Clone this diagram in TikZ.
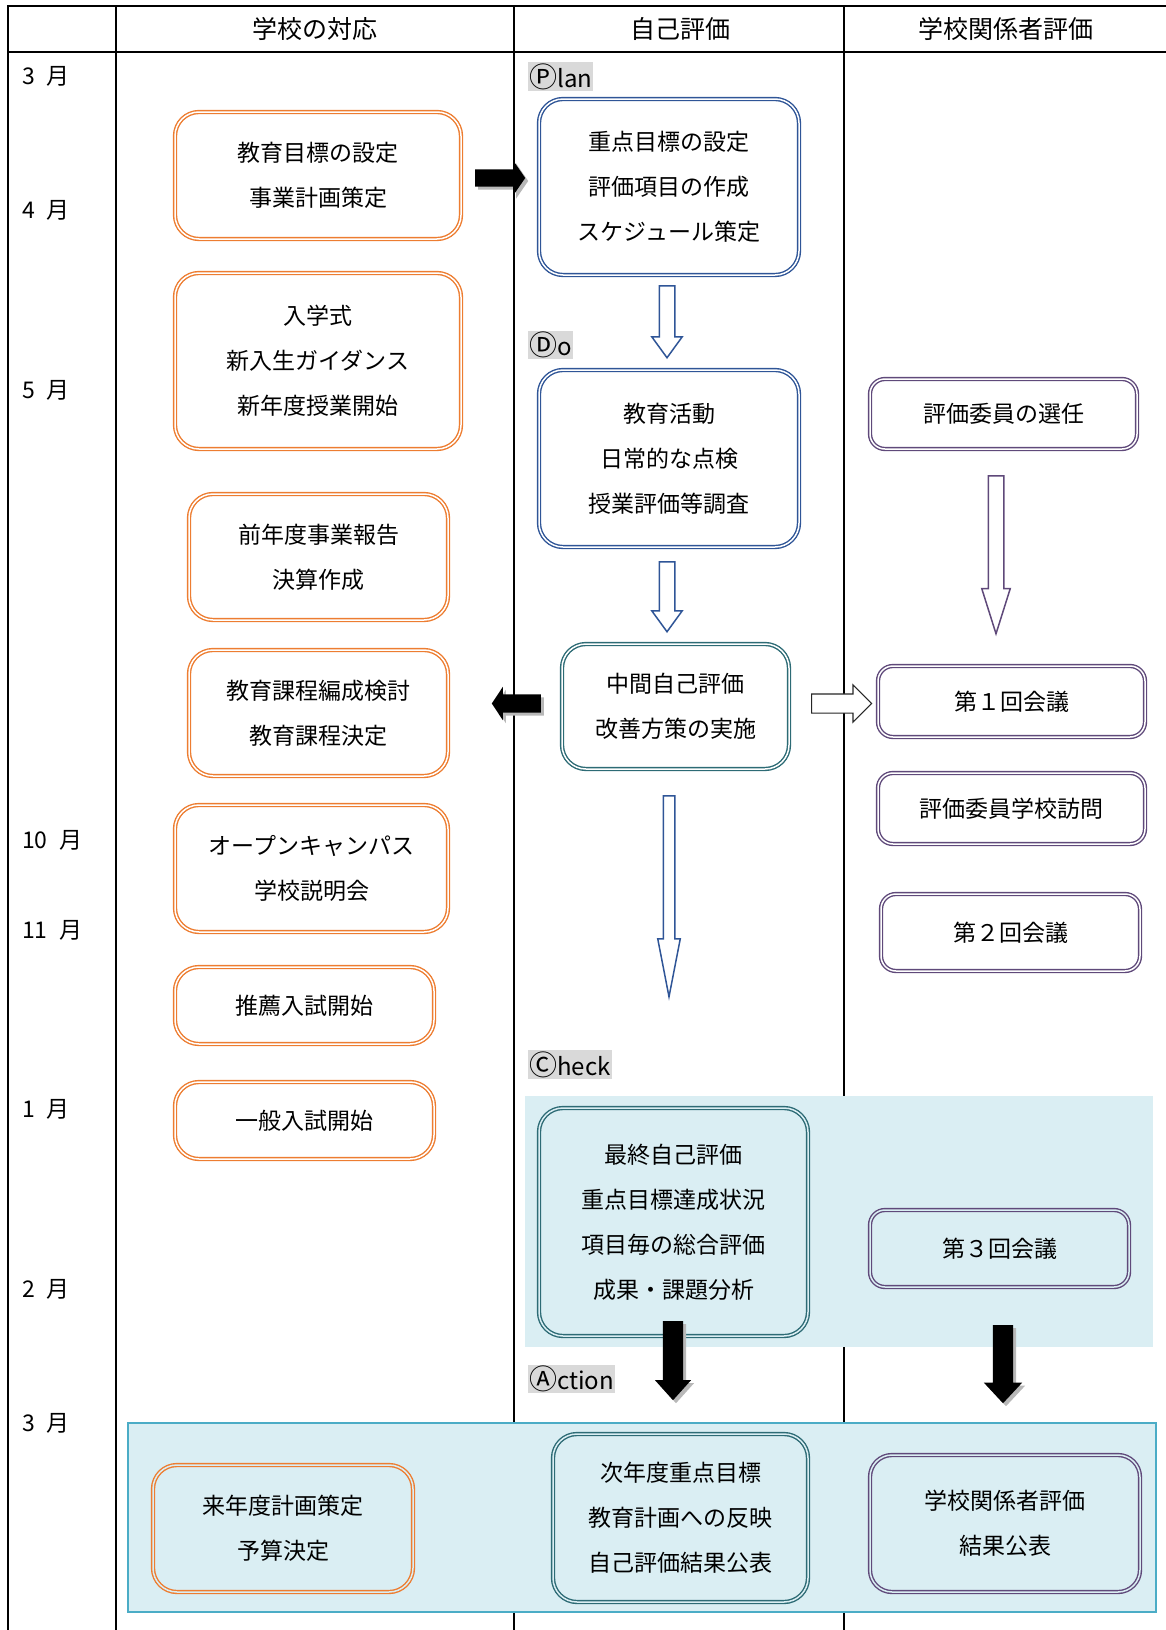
\documentclass[tikz,border=0pt]{standalone}
\usepackage{fontspec}
\setmainfont{Noto Sans CJK JP}
\usetikzlibrary{positioning,calc,shapes.arrows,shadows}

\definecolor{planorange}{HTML}{ED7D31}
\definecolor{planblue}{HTML}{2F5597}
\definecolor{checkteal}{HTML}{2D6B75}
\definecolor{evalpurple}{HTML}{5F497A}
\definecolor{bandfill}{HTML}{DAEEF3}
\definecolor{bandline}{HTML}{4BACC6}
\definecolor{taggray}{HTML}{D9D9D9}

\begin{document}
\begin{tikzpicture}
% Style
[
    x=1pt, y=-1pt,
    font=\fontsize{23}{45}\selectfont,
    box/.style={
        draw=#1, double=white, fill=white, line width=1.4pt, double distance=1.5pt,
        rounded corners=24pt, align=center, inner sep=0pt
    },
    obox/.style={box=planorange},
    bbox/.style={box=planblue},
    tbox/.style={box=checkteal},
    pbox/.style={box=evalpurple, rounded corners=15pt},
    inband/.style={fill=bandfill, double=bandfill},
    head/.style={font=\fontsize{25}{30}\selectfont},
    tag/.style={fill=taggray, inner sep=1pt, anchor=west, font=\fontsize{24}{28}\selectfont},
    month/.style={anchor=west, inner sep=0pt},
    solidarrow/.style={
        single arrow, fill=black, inner xsep=0pt, anchor=tail,
        drop shadow={shadow xshift=3pt, shadow yshift=-3pt, fill=black!28, opacity=1}
    },
    openarrow/.style={single arrow, draw=#1, fill=white, line width=1.5pt, inner xsep=0pt, anchor=tail}
]

%=================================== Table ===================================
\useasboundingbox (0,0) rectangle (1166,1630);
\draw[line width=2.5pt] (8,1630) -- (8,6) -- (1166,6);
\draw[line width=2.5pt] (8,52) -- (1166,52);
\foreach \x in {116,514,844} {
    \draw[line width=1.8pt] (\x,6) -- (\x,1630);
}

\node[head] (head-school) at (315,29) {学校の対応};
\node[head] (head-self)   at (680,29) {自己評価};
\node[head] (head-rel)    at (1006,29) {学校関係者評価};

\foreach \m/\y [count=\i] in {3/76, 4/210, 5/390, 10/840, 11/930, 1/1109, 2/1289, 3/1423} {
    \node[month] (month-\i) at (22,\y) {\m\enspace 月};
}

% bands
\fill[bandfill] (525,1096) rectangle (1153,1347);
\draw[bandline, fill=bandfill, line width=1.5pt] (128,1423) rectangle (1156,1612);

\node[tag] (tag-plan)   at (528,76.5)   {{\fontsize{28}{28}\selectfont Ⓟ}lan};
\node[tag] (tag-do)     at (528,345)    {{\fontsize{28}{28}\selectfont Ⓓ}o};
\node[tag] (tag-check)  at (528,1064.5) {{\fontsize{28}{28}\selectfont Ⓒ}heck};
\node[tag] (tag-action) at (528,1379)   {{\fontsize{28}{28}\selectfont Ⓐ}ction};

%=================================== Start ===================================
{
    % 学校の対応
    \node[obox, minimum width=286pt, minimum height=127pt] (goal)    at (318,175.5)  {教育目標の設定\\事業計画策定};
    \node[obox, minimum width=286pt, minimum height=176pt] (entry)   at (318,361)    {入学式\\新入生ガイダンス\\新年度授業開始};
    \node[obox, minimum width=259pt, minimum height=126pt] (report)  at (318.5,557)  {前年度事業報告\\決算作成};
    \node[obox, minimum width=259pt, minimum height=126pt] (course)  at (318.5,713)  {教育課程編成検討\\教育課程決定};
    \node[obox, minimum width=273pt, minimum height=127pt] (open)    at (311.5,868.5) {オープンキャンパス\\学校説明会};
    \node[obox, minimum width=259pt, minimum height=77pt]  (suisen)  at (304.5,1005.5) {推薦入試開始};
    \node[obox, minimum width=259pt, minimum height=77pt]  (ippan)   at (304.5,1120.5) {一般入試開始};
    \node[obox, inband, minimum width=260pt, minimum height=127pt] (budget) at (283,1528.5) {来年度計画策定\\予算決定};

    % 自己評価
    \node[bbox, minimum width=260pt, minimum height=176pt] (plan) at (669,187)   {重点目標の設定\\評価項目の作成\\スケジュール策定};
    \node[bbox, minimum width=260pt, minimum height=177pt] (do)   at (669,458.5) {教育活動\\日常的な点検\\授業評価等調査};
    \node[tbox, minimum width=227pt, minimum height=125pt] (mid)  at (675.5,706.5) {中間自己評価\\改善方策の実施};
    \node[tbox, inband, minimum width=269pt, minimum height=228pt] (final) at (673.5,1222) {最終自己評価\\重点目標達成状況\\項目毎の総合評価\\成果・課題分析};
    \node[tbox, inband, minimum width=255pt, minimum height=168pt] (next)  at (680.5,1518) {次年度重点目標\\教育計画への反映\\自己評価結果公表};

    % 学校関係者評価
    \node[pbox, minimum width=267pt, minimum height=70pt] (select) at (1003.5,414)  {評価委員の選任};
    \node[pbox, minimum width=267pt, minimum height=71pt] (meet1)  at (1011.5,701.5) {第１回会議};
    \node[pbox, minimum width=267pt, minimum height=71pt] (visit)  at (1011.5,808.5) {評価委員学校訪問};
    \node[pbox, minimum width=259pt, minimum height=77pt] (meet2)  at (1010.5,932.5) {第２回会議};
    \node[pbox, inband, minimum width=259pt, minimum height=77pt] (meet3)  at (999.5,1248.5) {第３回会議};
    \node[pbox, inband, minimum width=270pt, minimum height=137pt, rounded corners=22pt] (result) at (1005,1523.5) {学校関係者評価\\結果公表};

    % arrows (placed by their tails)
    \node[solidarrow, minimum height=50pt, inner ysep=8.5pt,
          single arrow head extend=9pt, single arrow tip angle=111] (arr-goal) at (475,178) {};
    \node[solidarrow, rotate=180, minimum height=49pt, inner ysep=9pt,
          single arrow head extend=7.5pt, single arrow tip angle=113] (arr-mid) at (541,703.5) {};
    \node[solidarrow, rotate=-90, minimum height=79pt, inner ysep=10pt,
          single arrow head extend=8pt, single arrow tip angle=84] (arr-final) at (673,1321) {};
    \node[solidarrow, rotate=-90, minimum height=78pt, inner ysep=10pt,
          single arrow head extend=9pt, single arrow tip angle=86] (arr-meet3) at (1003,1325) {};

    \node[openarrow=planblue, rotate=-90, minimum height=72pt, inner ysep=7pt,
          single arrow head extend=7.5pt, single arrow tip angle=72] (arr-plan) at (667,285) {};
    \node[openarrow=planblue, rotate=-90, minimum height=70pt, inner ysep=7pt,
          single arrow head extend=7.5pt, single arrow tip angle=72] (arr-do) at (667,561) {};
    \node[openarrow=planblue, rotate=-90, minimum height=201pt, inner ysep=5pt,
          single arrow head extend=5.5pt, single arrow tip angle=22] (arr-long) at (669,795) {};
    \node[openarrow=black!85, line width=1.2pt, minimum height=60pt, inner ysep=9pt,
          single arrow head extend=9pt, single arrow tip angle=90] (arr-meet1) at (811,703.5) {};
    \node[openarrow=evalpurple, rotate=-90, minimum height=158pt, inner ysep=7pt,
          single arrow head extend=6.5pt, single arrow tip angle=35] (arr-select) at (996,475) {};
}
%==================================== END ====================================

\end{tikzpicture}
\end{document}
